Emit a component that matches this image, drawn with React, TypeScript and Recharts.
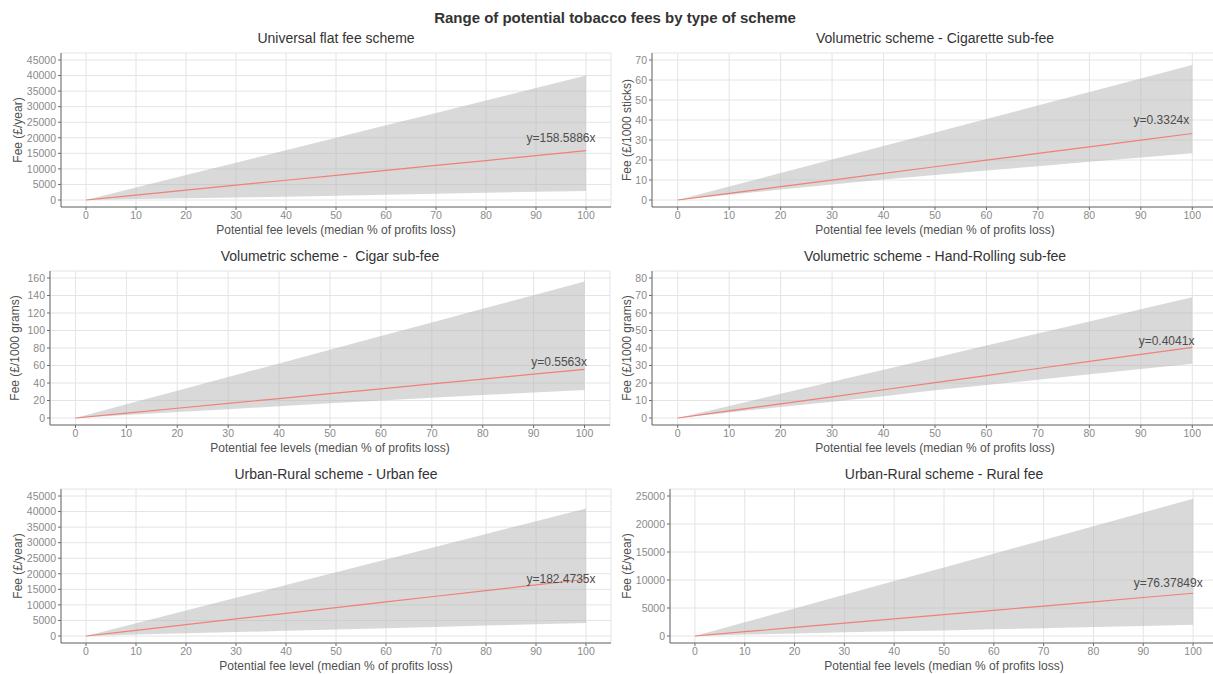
import React from "react";
import {
    Area,
    CartesianGrid,
    ComposedChart,
    Line,
    ReferenceDot,
    XAxis,
    YAxis,
} from "recharts";

// fee level (median % of profits loss)
const FEE_LEVELS = [0, 10, 20, 30, 40, 50, 60, 70, 80, 90, 100];

const UNIVERSAL_FIT = [0, 1586, 3172, 4758, 6344, 7929, 9515, 11101, 12687, 14273, 15859];
const UNIVERSAL_LOW = [0, 300, 550, 800, 1050, 1350, 1700, 2000, 2300, 2650, 2900];
const UNIVERSAL_HIGH = [0, 4000, 8000, 12000, 16000, 20000, 24000, 28000, 32000, 36000, 40000];

const CIGARETTE_FIT = [0, 3.32, 6.65, 9.97, 13.3, 16.62, 19.94, 23.27, 26.59, 29.92, 33.24];
const CIGARETTE_LOW = [0, 2.6, 5.2, 7.7, 10.2, 12.5, 14.7, 16.9, 19.1, 21.2, 23.4];
const CIGARETTE_HIGH = [0, 6.7, 13.5, 20.2, 27, 33.7, 40.5, 47.2, 54, 60.7, 67.5];

const CIGAR_FIT = [0, 5.56, 11.13, 16.69, 22.25, 27.82, 33.38, 38.94, 44.5, 50.07, 55.63];
const CIGAR_LOW = [0, 3.5, 6.8, 10, 13.5, 16.8, 20, 23.2, 26.3, 29.2, 32];
const CIGAR_HIGH = [0, 15.6, 31.2, 46.8, 62.4, 78, 93.6, 109.2, 124.8, 140.4, 156];

const ROLLING_FIT = [0, 4.04, 8.08, 12.12, 16.16, 20.21, 24.25, 28.29, 32.33, 36.37, 40.41];
const ROLLING_LOW = [0, 3.2, 6.3, 9.3, 12.5, 15.8, 18.8, 21.9, 25, 28, 31];
const ROLLING_HIGH = [0, 6.9, 13.8, 20.7, 27.6, 34.5, 41.4, 48.3, 55.2, 62.1, 69];

const URBAN_FIT = [0, 1825, 3649, 5474, 7299, 9124, 10948, 12773, 14598, 16423, 18247];
const URBAN_LOW = [0, 450, 850, 1250, 1650, 2050, 2500, 2900, 3350, 3800, 4200];
const URBAN_HIGH = [0, 4100, 8200, 12300, 16400, 20500, 24600, 28700, 32800, 36900, 41000];

const RURAL_FIT = [0, 764, 1528, 2291, 3055, 3819, 4583, 5346, 6110, 6874, 7638];
const RURAL_LOW = [0, 250, 450, 650, 850, 1000, 1200, 1400, 1600, 1800, 2000];
const RURAL_HIGH = [0, 2450, 4900, 7350, 9800, 12250, 14700, 17150, 19600, 22050, 24500];

const TICKS_45000 = [0, 5000, 10000, 15000, 20000, 25000, 30000, 35000, 40000, 45000];
const TICKS_70 = [0, 10, 20, 30, 40, 50, 60, 70];
const TICKS_160 = [0, 20, 40, 60, 80, 100, 120, 140, 160];
const TICKS_80 = [0, 10, 20, 30, 40, 50, 60, 70, 80];
const TICKS_25000 = [0, 5000, 10000, 15000, 20000, 25000];

const FONT = "Arial, 'Liberation Sans', sans-serif";

type Panel = {
    title: string;
    yLabel: string;
    xLabel: string;
    fit: number[];
    low: number[];
    high: number[];
    yTicks: number[];
    equation: string;
    eqX: number;
    eqY: number;
    // layout
    chartLeft: number;
    px: number;
    py: number;
    pw: number;
    ph: number;
    yLabelOffset: number;
};

const panels: Panel[] = [
    {
        title: "Universal flat fee scheme",
        yLabel: "Fee (£/year)",
        xLabel: "Potential fee levels (median % of profits loss)",
        fit: UNIVERSAL_FIT,
        low: UNIVERSAL_LOW,
        high: UNIVERSAL_HIGH,
        yTicks: TICKS_45000,
        equation: "y=158.5886x",
        eqX: 95,
        eqY: 20000,
        chartLeft: 0,
        px: 61,
        py: 53,
        pw: 550,
        ph: 154,
        yLabelOffset: 18,
    },
    {
        title: "Volumetric scheme - Cigarette sub-fee",
        yLabel: "Fee (£/1000 sticks)",
        xLabel: "Potential fee levels (median % of profits loss)",
        fit: CIGARETTE_FIT,
        low: CIGARETTE_LOW,
        high: CIGARETTE_HIGH,
        yTicks: TICKS_70,
        equation: "y=0.3324x",
        eqX: 94,
        eqY: 40,
        chartLeft: 612,
        px: 652,
        py: 53,
        pw: 566,
        ph: 154,
        yLabelOffset: 15,
    },
    {
        title: "Volumetric scheme -  Cigar sub-fee",
        yLabel: "Fee (£/1000 grams)",
        xLabel: "Potential fee levels (median % of profits loss)",
        fit: CIGAR_FIT,
        low: CIGAR_LOW,
        high: CIGAR_HIGH,
        yTicks: TICKS_160,
        equation: "y=0.5563x",
        eqX: 95,
        eqY: 64,
        chartLeft: 0,
        px: 50,
        py: 271,
        pw: 560,
        ph: 154,
        yLabelOffset: 15,
    },
    {
        title: "Volumetric scheme - Hand-Rolling sub-fee",
        yLabel: "Fee (£/1000 grams)",
        xLabel: "Potential fee levels (median % of profits loss)",
        fit: ROLLING_FIT,
        low: ROLLING_LOW,
        high: ROLLING_HIGH,
        yTicks: TICKS_80,
        equation: "y=0.4041x",
        eqX: 95,
        eqY: 44,
        chartLeft: 612,
        px: 652,
        py: 271,
        pw: 566,
        ph: 154,
        yLabelOffset: 15,
    },
    {
        title: "Urban-Rural scheme - Urban fee",
        yLabel: "Fee (£/year)",
        xLabel: "Potential fee level (median % of profits loss)",
        fit: URBAN_FIT,
        low: URBAN_LOW,
        high: URBAN_HIGH,
        yTicks: TICKS_45000,
        equation: "y=182.4735x",
        eqX: 95,
        eqY: 18500,
        chartLeft: 0,
        px: 61,
        py: 489,
        pw: 550,
        ph: 154,
        yLabelOffset: 18,
    },
    {
        title: "Urban-Rural scheme - Rural fee",
        yLabel: "Fee (£/year)",
        xLabel: "Potential fee levels (median % of profits loss)",
        fit: RURAL_FIT,
        low: RURAL_LOW,
        high: RURAL_HIGH,
        yTicks: TICKS_25000,
        equation: "y=76.37849x",
        eqX: 95,
        eqY: 9500,
        chartLeft: 612,
        px: 670,
        py: 489,
        pw: 548,
        ph: 154,
        yLabelOffset: 15,
    },
];

const FeePanel = ({ p }: { p: Panel }) => {
    const data = FEE_LEVELS.map((x, i) => ({
        x,
        fit: p.fit[i],
        band: [p.low[i], p.high[i]],
    }));
    const top = p.yTicks[p.yTicks.length - 1];
    const pad = top * 0.05;
    const mt = 5;
    const xh = 32;
    const yw = p.px - p.chartLeft;
    return (
        <>
            <div
                style={{
                    position: "absolute",
                    left: p.px + p.pw / 2,
                    top: p.py - 15,
                    transform: "translate(-50%, -50%)",
                    whiteSpace: "pre",
                    fontSize: 14,
                    color: "#333",
                }}
            >
                {p.title}
            </div>
            <div
                style={{
                    position: "absolute",
                    left: p.chartLeft,
                    top: p.py - mt,
                }}
            >
                <ComposedChart
                    width={yw + p.pw + 2}
                    height={mt + p.ph + xh}
                    data={data}
                    margin={{ top: mt, right: 2, left: 0, bottom: 0 }}
                >
                    <CartesianGrid stroke="#e4e4e4" />
                    <XAxis
                        dataKey="x"
                        type="number"
                        domain={[-5, 105]}
                        ticks={FEE_LEVELS}
                        interval={0}
                        height={xh}
                        stroke="#6a6a6a"
                        tickSize={3}
                        tickMargin={2}
                        tick={{ fill: "#8a8a8a", fontSize: 10.5 }}
                        label={{
                            value: p.xLabel,
                            position: "insideBottom",
                            offset: 5,
                            fill: "#505050",
                            fontSize: 12,
                        }}
                    />
                    <YAxis
                        type="number"
                        domain={[-pad, top + pad]}
                        ticks={p.yTicks}
                        interval={0}
                        width={yw}
                        allowDataOverflow
                        stroke="#6a6a6a"
                        tickSize={3}
                        tickMargin={2}
                        tick={{ fill: "#8a8a8a", fontSize: 10.5 }}
                        label={{
                            value: p.yLabel,
                            angle: -90,
                            position: "insideLeft",
                            offset: p.yLabelOffset,
                            fill: "#505050",
                            fontSize: 12,
                            style: { textAnchor: "middle" },
                        }}
                    />
                    <Area
                        dataKey="band"
                        type="linear"
                        stroke="none"
                        fill="#b3b3b3"
                        fillOpacity={0.5}
                        isAnimationActive={false}
                    />
                    <Line
                        dataKey="fit"
                        type="linear"
                        stroke="#F08078"
                        strokeWidth={1.2}
                        dot={false}
                        activeDot={false}
                        isAnimationActive={false}
                    />
                    <ReferenceDot
                        x={p.eqX}
                        y={p.eqY}
                        r={0}
                        fill="none"
                        stroke="none"
                        ifOverflow="visible"
                        label={{
                            value: p.equation,
                            position: "center",
                            fill: "#4d4d4d",
                            fontSize: 12,
                        }}
                    />
                </ComposedChart>
            </div>
        </>
    );
};

const App = () => {
    return (
        <div
            style={{
                position: "absolute",
                left: 0,
                top: 0,
                width: 1213,
                height: 674,
                overflow: "hidden",
                background: "#fff",
                fontFamily: FONT,
            }}
        >
            <div
                style={{
                    position: "absolute",
                    left: 615,
                    top: 17,
                    transform: "translate(-50%, -50%)",
                    fontSize: 15,
                    fontWeight: "bold",
                    color: "#333",
                    whiteSpace: "nowrap",
                }}
            >
                Range of potential tobacco fees by type of scheme
            </div>
            {panels.map((p) => (
                <FeePanel key={p.title} p={p} />
            ))}
        </div>
    );
};

export default App;
